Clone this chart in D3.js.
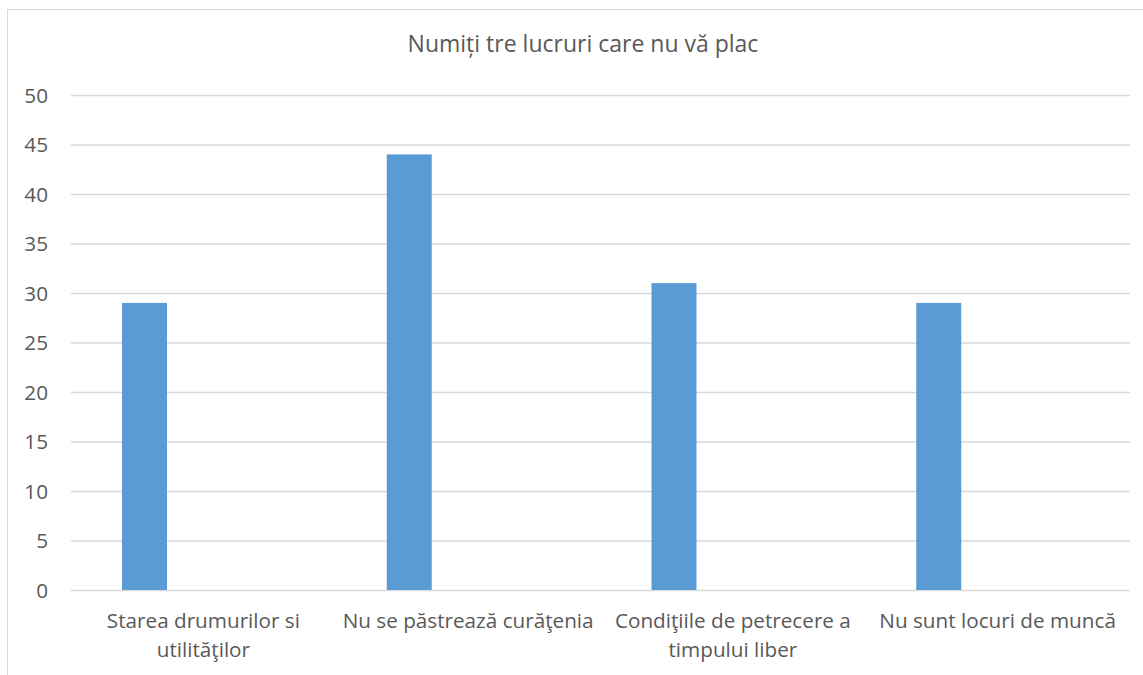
<!DOCTYPE html>
<html>
<head>
<meta charset="utf-8">
<script src="https://cdn.jsdelivr.net/npm/d3@7"></script>
<style>
  body { margin: 0; background: #fff; }
  text { font-family: "Open Sans", sans-serif; fill: #595959; }
</style>
</head>
<body>
<div id="chart"></div>
<script>
var titleText = "Numiți tre lucruri care nu vă plac";
var categories = [
  ["Starea drumurilor si", "utilităţilor"],
  ["Nu se păstrează curăţenia"],
  ["Condiţiile de petrecere a", "timpului liber"],
  ["Nu sunt locuri de muncă"]
];
var values = [29, 44, 31, 29];
var yTicks = [0, 5, 10, 15, 20, 25, 30, 35, 40, 45, 50];

var width = 1143, height = 675;
var margin = {top: 95, right: 13, bottom: 85, left: 71};
var fontSize = "20.7px";

var svg = d3.select("#chart").append("svg")
  .attr("width", width).attr("height", height);

// chart frame
svg.append("rect")
  .attr("x", 7.5).attr("y", 9.5)
  .attr("width", width + 10).attr("height", height + 10)
  .style("fill", "none").style("stroke", "#d9d9d9").style("stroke-width", 1);

svg.append("text")
  .attr("x", 583).attr("y", 52)
  .attr("text-anchor", "middle")
  .style("font-size", "23px")
  .text(titleText);

var x0 = d3.scaleBand()
  .domain(d3.range(categories.length))
  .range([margin.left, width - margin.right])
  .padding(0);

// three series slots per category, only the first has data
var x1 = d3.scaleBand()
  .domain([0, 1, 2])
  .range([0, x0.bandwidth()])
  .paddingInner(0.236)
  .paddingOuter(0.866);

var y = d3.scaleLinear()
  .domain([0, 50])
  .range([height - margin.bottom, margin.top]);

var yAxis = d3.axisLeft(y).tickValues(yTicks)
  .tickSize(-(width - margin.left - margin.right))
  .tickPadding(23);

var gy = svg.append("g")
  .attr("transform", "translate(" + margin.left + ",0)")
  .call(yAxis);
gy.select(".domain").remove();
gy.selectAll(".tick line").style("stroke", "#d9d9d9").style("stroke-width", 1.5);
gy.selectAll(".tick text")
  .style("font-size", fontSize)
  .style("font-family", "'Open Sans', sans-serif")
  .style("fill", "#595959")
  .attr("dy", "0.36em");

svg.append("g").selectAll("rect")
  .data(values).enter().append("rect")
  .attr("x", function(d, i) { return x0(i) + x1(0); })
  .attr("width", x1.bandwidth())
  .attr("y", function(d) { return y(d); })
  .attr("height", function(d) { return y(0) - y(d); })
  .style("fill", "#5b9bd5");

var labels = svg.append("g").selectAll("text")
  .data(categories).enter().append("text")
  .attr("text-anchor", "middle")
  .attr("x", function(d, i) { return x0(i) + x0.bandwidth() / 2; })
  .attr("y", 628)
  .style("font-size", fontSize);

labels.selectAll("tspan")
  .data(function(d) { return d; }).enter().append("tspan")
  .attr("x", function() { return d3.select(this.parentNode).attr("x"); })
  .attr("dy", function(d, i) { return i === 0 ? 0 : 29; })
  .text(function(d) { return d; });
</script>
</body>
</html>
